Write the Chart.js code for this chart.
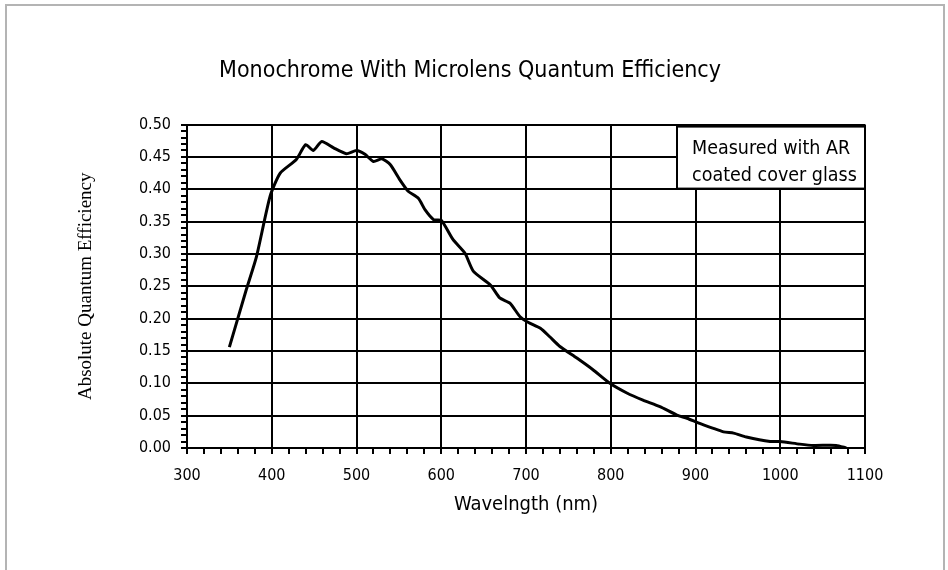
<!DOCTYPE html>
<html lang="en">
<head>
<meta charset="UTF-8">
<title>Monochrome With Microlens Quantum Efficiency</title>
<script src="https://cdn.jsdelivr.net/npm/chart.js@4.4.0/dist/chart.umd.min.js"></script>
<style>
  body { margin: 0; background: #fff; }
  #wrap { position: relative; width: 948px; height: 570px; overflow: hidden; }
  #frame { position: absolute; left: 5px; top: 4px; width: 936px; height: 600px; border: 2px solid #b4b4b4; }
  canvas { position: absolute; left: 0; top: 0; }
</style>
</head>
<body>
<div id="wrap">
  <div id="frame"></div>
  <canvas id="qe" width="948" height="570"></canvas>
</div>
<script>
// values
var wavelength = [350, 370, 382, 398, 410, 429, 440, 449, 459, 473, 488, 500, 510, 520, 530, 540,
                  551, 561, 573, 581, 591, 600, 614, 628, 638, 658, 669, 681, 693, 703, 717, 728,
                  740, 760, 779, 799, 819, 838, 858, 878, 890, 905, 933, 945, 960, 988, 1000, 1023,
                  1039, 1066, 1078];
var efficiency = [0.156, 0.245, 0.296, 0.389, 0.425, 0.446, 0.469, 0.460, 0.474, 0.464, 0.455, 0.460, 0.454, 0.443, 0.447, 0.438,
                  0.415, 0.397, 0.386, 0.368, 0.353, 0.352, 0.322, 0.301, 0.273, 0.252, 0.232, 0.224, 0.203, 0.194, 0.185, 0.172,
                  0.157, 0.139, 0.121, 0.100, 0.085, 0.074, 0.064, 0.051, 0.046, 0.038, 0.025, 0.023, 0.017, 0.010, 0.010, 0.006,
                  0.004, 0.004, 0.000];
var noteLines = ["Measured with AR", "coated cover glass"];

var narrow = "'Liberation Sans Narrow', 'DejaVu Sans Condensed', sans-serif";

var points = wavelength.map(function (w, i) { return { x: w, y: efficiency[i] }; });

// the white box with the measurement note in the top right corner
var notePlugin = {
  id: 'note',
  afterDatasetsDraw: function (chart) {
    var ctx = chart.ctx, a = chart.chartArea;
    var w = 188, h = 62;
    var x = a.right - w, y = a.top + 2;
    ctx.save();
    ctx.fillStyle = '#fff';
    ctx.fillRect(x, y, w, h);
    ctx.lineWidth = 2;
    ctx.strokeStyle = '#000';
    ctx.strokeRect(x, y, w, h);
    ctx.fillStyle = '#000';
    ctx.font = '19.5px ' + narrow;
    ctx.textBaseline = 'alphabetic';
    ctx.fillText(noteLines[0], x + 15, y + 27);
    ctx.fillText(noteLines[1], x + 15, y + 54);
    ctx.restore();
  }
};

new Chart(document.getElementById('qe'), {
  type: 'line',
  data: {
    datasets: [{
      data: points,
      borderColor: '#000',
      borderWidth: 3,
      pointRadius: 0,
      tension: 0.2,
      fill: false
    }]
  },
  options: {
    responsive: false,
    animation: false,
    layout: { padding: { left: 75, right: 83, top: 0, bottom: 49 } },
    plugins: {
      legend: { display: false },
      tooltip: { enabled: false },
      title: {
        display: true,
        text: 'Monochrome With Microlens Quantum Efficiency',
        color: '#000',
        font: { family: narrow, size: 23, weight: 'normal' },
        padding: { top: 57, bottom: 40 }
      }
    },
    scales: {
      x: {
        type: 'linear',
        min: 300,
        max: 1100,
        afterFit: function (s) { s.height = 73; },
        border: { color: '#000', width: 2 },
        grid: {
          lineWidth: 2,
          tickLength: 6,
          color: function (c) { return c.tick && c.tick.value % 100 === 0 ? '#000' : 'rgba(0,0,0,0)'; },
          tickColor: '#000'
        },
        ticks: {
          stepSize: 20,
          autoSkip: false,
          maxRotation: 0,
          padding: 12,
          color: '#000',
          font: { family: narrow, size: 16 },
          callback: function (v) { return v % 100 === 0 ? String(v) : ''; }
        },
        title: {
          display: true,
          text: 'Wavelngth (nm)',
          color: '#000',
          font: { family: narrow, size: 20 },
          padding: { top: 8 }
        }
      },
      y: {
        min: 0,
        max: 0.5,
        afterFit: function (s) { s.width = 112; },
        border: { color: '#000', width: 2 },
        grid: {
          lineWidth: 2,
          tickLength: 6,
          color: function (c) {
            if (!c.tick) return 'rgba(0,0,0,0)';
            return Math.round(c.tick.value * 100) % 5 === 0 ? '#000' : 'rgba(0,0,0,0)';
          },
          tickColor: '#000'
        },
        ticks: {
          stepSize: 0.01,
          maxTicksLimit: 100,
          autoSkip: false,
          padding: 10,
          color: '#000',
          font: { family: narrow, size: 16 },
          callback: function (v) { return Math.round(v * 100) % 5 === 0 ? v.toFixed(2) : ''; }
        },
        title: {
          display: true,
          text: 'Absolute Quantum Efficiency',
          color: '#000',
          font: { family: "'Liberation Serif', 'DejaVu Serif', serif", size: 19 },
          padding: 0
        }
      }
    }
  },
  plugins: [notePlugin]
});
</script>
</body>
</html>
